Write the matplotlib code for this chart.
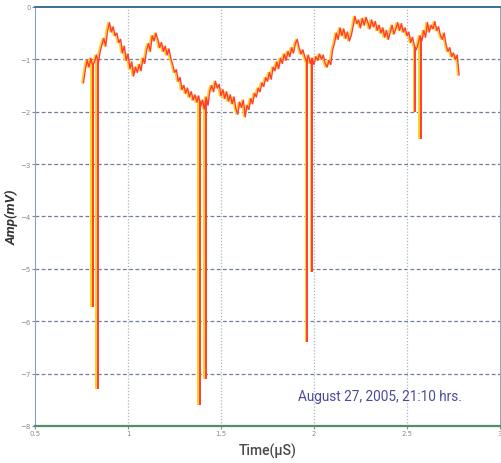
import numpy as np
import matplotlib
matplotlib.use("Agg")
import matplotlib.pyplot as plt
import matplotlib.transforms as mtransforms

t_start = 0.76
t_step = 0.01
amp = [
    -1.45, -1.20, -1.02, -1.15, -0.98, -1.12, -1.05, -0.92, -1.08, -0.85,
    -0.72, -0.60, -0.75, -0.45, -0.30, -0.48, -0.38, -0.55, -0.50, -0.68,
    -0.62, -0.88, -0.75, -1.02, -0.90, -1.18, -1.05, -1.32, -1.15, -1.25,
    -1.10, -1.22, -0.98, -1.08, -0.82, -0.70, -0.85, -0.55, -0.65, -0.50,
    -0.62, -0.78, -0.68, -0.85, -0.75, -0.92, -0.80, -0.98, -1.10, -1.25,
    -1.20, -1.42, -1.35, -1.58, -1.50, -1.65, -1.55, -1.72, -1.62, -1.78,
    -1.68, -1.82, -1.70, -1.90, -1.78, -1.95, -1.72, -1.88, -1.60, -1.50,
    -1.62, -1.42, -1.55, -1.48, -1.70, -1.58, -1.75, -1.62, -1.80, -1.68,
    -1.85, -1.72, -1.95, -2.05, -1.82, -1.92, -1.78, -2.10, -1.88, -1.96,
    -1.75, -1.85, -1.65, -1.72, -1.55, -1.62, -1.45, -1.52, -1.35, -1.42,
    -1.25, -1.38, -1.15, -1.22, -1.05, -1.18, -0.98, -1.08, -0.90, -1.02,
    -0.85, -0.95, -0.78, -0.88, -0.70, -0.62, -0.78, -0.90, -0.82, -0.95,
    -1.05, -0.92, -1.08, -0.98, -1.10, -0.95, -1.02, -0.90, -1.00, -0.92,
    -1.08, -1.15, -1.02, -1.10, -0.82, -0.70, -0.50, -0.62, -0.40, -0.55,
    -0.42, -0.60, -0.48, -0.65, -0.55, -0.38, -0.18, -0.32, -0.25, -0.40,
    -0.22, -0.35, -0.20, -0.30, -0.42, -0.25, -0.38, -0.28, -0.45, -0.35,
    -0.50, -0.40, -0.58, -0.45, -0.62, -0.48, -0.35, -0.52, -0.42, -0.30,
    -0.45, -0.32, -0.48, -0.40, -0.55, -0.48, -0.68, -0.58, -0.75, -0.82,
    -0.70, -0.55, -0.65, -0.45, -0.58, -0.30, -0.48, -0.35, -0.42, -0.28,
    -0.45, -0.38, -0.55, -0.62, -0.50, -0.72, -0.85, -0.78, -0.95, -0.88,
    -1.00, -0.92, -1.30,
]
t = t_start + t_step * np.arange(len(amp))

# discharge spikes: time and lowest value reached
spike_t = [0.811, 0.838, 1.385, 1.417, 1.964, 1.99, 2.543, 2.575]
spike_min = [-5.73, -7.29, -7.61, -7.10, -6.39, -5.06, -2.00, -2.52]

yticks = [0, -1, -2, -3, -4, -5, -6, -7, -8]
xticks = [0.5, 1, 1.5, 2, 2.5, 3]
xticklabels = ["0.5", "1", "1.5", "2", "2.5", "3"]
note = "August 27, 2005, 21:10 hrs."

fig = plt.figure(figsize=(5.01, 4.64), dpi=100)
ax = fig.add_axes([0.070, 0.080, 0.928, 0.903])

spike_top = np.interp(spike_t, t, amp)

# misregistered print look: yellow copy shifted left, red on top
shift = mtransforms.ScaledTranslation(-1.5 / 100, 0, fig.dpi_scale_trans)
ax.plot(t, amp, color="#ffd21f", lw=1.1, transform=ax.transData + shift)
ax.vlines(spike_t, spike_min, spike_top, color="#ffd21f", lw=1.5,
          transform=ax.transData + shift)
ax.plot(t, amp, color="#ff3b3b", lw=1.0)
ax.vlines(spike_t, spike_min, spike_top, color="#ff3b3b", lw=1.4)

ax.set_xlim(0.5, 3)
ax.set_ylim(-8, 0)
ax.set_xticks(xticks)
ax.set_xticklabels(xticklabels)
ax.set_yticks(yticks)
ax.tick_params(labelsize=5, colors="#8a8a8a", length=2, pad=1)

for y in yticks[1:-1]:
    ax.axhline(y, color="#6e7f96", lw=0.9, ls=(0, (3, 2)), zorder=0)
for x in xticks[1:-1]:
    ax.axvline(x, color="#a9b6c9", lw=0.9, ls=(0, (1, 1.5)), zorder=0)

ax.spines["top"].set_color("#3f6f8f")
ax.spines["top"].set_linewidth(1.4)
ax.spines["bottom"].set_color("#4f8f6a")
ax.spines["bottom"].set_linewidth(1.6)
ax.spines["left"].set_color("#7f9fd6")
ax.spines["right"].set_color("#9aa6b8")

ax.set_xlabel("Time(µS)", fontsize=10, color="#4a4a4a", fontweight="medium",
              family=["Roboto", "DejaVu Sans"], labelpad=5)
ax.set_ylabel("Amp(mV)", fontsize=9.5, color="#333333", style="italic",
              fontweight="bold", family=["Roboto", "DejaVu Sans"], labelpad=1)

ax.text(0.566, 0.072, note, transform=ax.transAxes, fontsize=9.8,
        color="#4b4b9b", va="center", ha="left",
        family=["Roboto", "DejaVu Sans"])

fig.savefig("out.png", dpi=100)
